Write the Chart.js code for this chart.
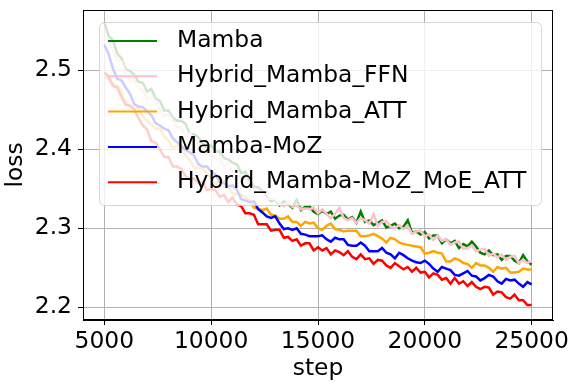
<!DOCTYPE html>
<html>
<head>
<meta charset="utf-8">
<script src="https://cdn.jsdelivr.net/npm/chart.js@4"></script>
<style>body{margin:0;background:#fff}</style>
</head>
<body>
<canvas id="lossChart" width="571" height="383"></canvas>
<script>
// loss logged every 200 steps, 5000 .. 25000
const steps = Array.from({length: 101}, (_, i) => 5000 + i * 200);
const xTicks = [5000, 10000, 15000, 20000, 25000];
const yTicks = [2.2, 2.3, 2.4, 2.5];
const seriesNames = ['Mamba', 'Hybrid_Mamba_FFN', 'Hybrid_Mamba_ATT', 'Mamba-MoZ', 'Hybrid_Mamba-MoZ_MoE_ATT'];

const mamba = [
  2.560, 2.543, 2.538, 2.521, 2.515, 2.501, 2.499, 2.494, 2.485, 2.484,
  2.473, 2.476, 2.464, 2.461, 2.449, 2.449, 2.440, 2.436, 2.436, 2.432,
  2.419, 2.419, 2.415, 2.407, 2.401, 2.405, 2.397, 2.397, 2.389, 2.387,
  2.383, 2.381, 2.370, 2.371, 2.360, 2.352, 2.352, 2.347, 2.339, 2.334,
  2.336, 2.329, 2.334, 2.331, 2.326, 2.336, 2.323, 2.327, 2.328, 2.321,
  2.318, 2.322, 2.318, 2.321, 2.312, 2.316, 2.317, 2.311, 2.314, 2.307,
  2.321, 2.308, 2.310, 2.304, 2.307, 2.310, 2.301, 2.303, 2.306, 2.300,
  2.302, 2.310, 2.294, 2.296, 2.292, 2.295, 2.287, 2.291, 2.291, 2.281,
  2.286, 2.281, 2.284, 2.275, 2.280, 2.277, 2.283, 2.277, 2.269, 2.267,
  2.272, 2.266, 2.267, 2.260, 2.265, 2.265, 2.259, 2.256, 2.266, 2.258,
  2.254
];
const hybridFFN = [
  2.541, 2.537, 2.526, 2.513, 2.511, 2.496, 2.487, 2.488, 2.478, 2.475,
  2.464, 2.465, 2.461, 2.450, 2.442, 2.444, 2.436, 2.428, 2.427, 2.417,
  2.420, 2.410, 2.408, 2.398, 2.400, 2.395, 2.388, 2.387, 2.378, 2.382,
  2.372, 2.371, 2.362, 2.364, 2.354, 2.349, 2.348, 2.346, 2.336, 2.338,
  2.337, 2.331, 2.328, 2.334, 2.327, 2.329, 2.324, 2.325, 2.324, 2.326,
  2.319, 2.324, 2.318, 2.313, 2.318, 2.326, 2.313, 2.310, 2.313, 2.307,
  2.313, 2.310, 2.306, 2.318, 2.303, 2.308, 2.309, 2.302, 2.300, 2.304,
  2.299, 2.303, 2.293, 2.296, 2.297, 2.290, 2.292, 2.285, 2.291, 2.284,
  2.286, 2.279, 2.282, 2.283, 2.274, 2.275, 2.278, 2.271, 2.273, 2.274,
  2.265, 2.268, 2.263, 2.267, 2.260, 2.264, 2.265, 2.256, 2.260, 2.256,
  2.259
];
const hybridATT = [
  2.492, 2.488, 2.482, 2.480, 2.473, 2.459, 2.455, 2.452, 2.452, 2.441,
  2.436, 2.431, 2.426, 2.426, 2.416, 2.411, 2.401, 2.404, 2.401, 2.392,
  2.386, 2.377, 2.376, 2.377, 2.368, 2.364, 2.356, 2.360, 2.360, 2.351,
  2.344, 2.343, 2.343, 2.339, 2.335, 2.326, 2.325, 2.323, 2.325, 2.317,
  2.316, 2.312, 2.312, 2.315, 2.308, 2.308, 2.303, 2.308, 2.306, 2.307,
  2.300, 2.298, 2.303, 2.306, 2.299, 2.298, 2.296, 2.297, 2.297, 2.297,
  2.290, 2.290, 2.291, 2.293, 2.290, 2.287, 2.282, 2.288, 2.286, 2.282,
  2.280, 2.279, 2.278, 2.277, 2.276, 2.268, 2.269, 2.271, 2.269, 2.268,
  2.258, 2.258, 2.262, 2.260, 2.256, 2.255, 2.250, 2.256, 2.253, 2.253,
  2.250, 2.245, 2.251, 2.249, 2.250, 2.244, 2.244, 2.245, 2.249, 2.248,
  2.248
];
const mambaMoZ = [
  2.532, 2.520, 2.502, 2.489, 2.487, 2.478, 2.470, 2.457, 2.454, 2.453,
  2.448, 2.443, 2.433, 2.430, 2.426, 2.424, 2.414, 2.409, 2.404, 2.399,
  2.396, 2.392, 2.381, 2.378, 2.378, 2.372, 2.368, 2.359, 2.357, 2.353,
  2.354, 2.349, 2.337, 2.335, 2.333, 2.334, 2.324, 2.320, 2.315, 2.313,
  2.315, 2.306, 2.299, 2.300, 2.298, 2.300, 2.293, 2.292, 2.290, 2.290,
  2.290, 2.291, 2.286, 2.283, 2.288, 2.286, 2.286, 2.279, 2.278, 2.278,
  2.282, 2.278, 2.271, 2.271, 2.271, 2.275, 2.269, 2.267, 2.262, 2.269,
  2.266, 2.262, 2.259, 2.257, 2.256, 2.259, 2.255, 2.249, 2.245, 2.251,
  2.249, 2.247, 2.241, 2.240, 2.243, 2.246, 2.240, 2.239, 2.234, 2.237,
  2.241, 2.239, 2.233, 2.230, 2.236, 2.234, 2.235, 2.230, 2.226, 2.232,
  2.229
];
const hybridMoZMoEATT = [
  2.497, 2.492, 2.480, 2.478, 2.466, 2.456, 2.455, 2.450, 2.439, 2.430,
  2.425, 2.410, 2.408, 2.400, 2.390, 2.390, 2.378, 2.378, 2.375, 2.366,
  2.361, 2.363, 2.357, 2.359, 2.348, 2.350, 2.348, 2.340, 2.342, 2.333,
  2.339, 2.330, 2.328, 2.319, 2.319, 2.317, 2.305, 2.305, 2.305, 2.297,
  2.298, 2.298, 2.288, 2.289, 2.284, 2.286, 2.278, 2.281, 2.281, 2.272,
  2.276, 2.272, 2.275, 2.267, 2.272, 2.270, 2.266, 2.271, 2.264, 2.261,
  2.267, 2.261, 2.262, 2.255, 2.260, 2.259, 2.253, 2.250, 2.256, 2.252,
  2.248, 2.251, 2.245, 2.250, 2.244, 2.245, 2.238, 2.243, 2.241, 2.235,
  2.237, 2.230, 2.237, 2.230, 2.233, 2.227, 2.232, 2.226, 2.223, 2.226,
  2.225, 2.216, 2.220, 2.219, 2.213, 2.211, 2.216, 2.209, 2.209, 2.203,
  2.203
];

function pairs(values) {
  return values.map((v, i) => ({x: steps[i], y: v}));
}

function line(label, values, color, order) {
  return {
    label: label,
    data: pairs(values),
    borderColor: color,
    borderWidth: 2.5,
    pointRadius: 0,
    tension: 0,
    fill: false,
    order: order,
  };
}

// matplotlib style frame + legend box drawn on top of the lines
const frameAndLegend = {
  id: 'frameAndLegend',
  afterDraw(chart) {
    const ctx = chart.ctx;
    const a = chart.chartArea;
    ctx.save();
    ctx.strokeStyle = '#000';
    ctx.lineWidth = 1;
    ctx.strokeRect(a.left + 0.5, a.top + 0.5, a.right - a.left - 1, a.bottom - a.top - 1);

    const bx = a.left + 16, by = a.top + 12, bw = 442, bh = 183;
    ctx.beginPath();
    ctx.roundRect(bx + 0.5, by + 0.5, bw, bh, 5);
    ctx.fillStyle = 'rgba(255,255,255,0.8)';
    ctx.fill();
    ctx.strokeStyle = 'rgba(204,204,204,0.8)';
    ctx.stroke();

    ctx.font = '23.4px "DejaVu Sans"';
    ctx.textBaseline = 'middle';
    ctx.textAlign = 'left';
    chart.data.datasets.forEach((ds, i) => {
      const y = by + 19 + i * 35.3;
      ctx.beginPath();
      ctx.moveTo(bx + 9, y);
      ctx.lineTo(bx + 58, y);
      ctx.strokeStyle = ds.borderColor;
      ctx.lineWidth = 2;
      ctx.stroke();
      ctx.fillStyle = '#000';
      ctx.fillText(ds.label, bx + 78, y);
    });
    ctx.restore();
  }
};

// keep the plot box where matplotlib put it
function noLabelPadding(scale) {
  scale.paddingTop = 0;
  scale.paddingBottom = 0;
  scale.paddingLeft = 0;
  scale.paddingRight = 0;
}

Chart.defaults.font.family = '"DejaVu Sans"';
Chart.defaults.font.size = 23.4;
Chart.defaults.color = '#000';

new Chart(document.getElementById('lossChart'), {
  type: 'line',
  data: {
    datasets: [
      line(seriesNames[0], mamba, '#008000', 4),
      line(seriesNames[1], hybridFFN, '#ffc0cb', 3),
      line(seriesNames[2], hybridATT, '#ffa500', 2),
      line(seriesNames[3], mambaMoZ, '#0000ff', 1),
      line(seriesNames[4], hybridMoZMoEATT, '#ff0000', 0),
    ]
  },
  options: {
    responsive: false,
    animation: false,
    layout: {padding: {left: 0, top: 10, right: 18, bottom: 0}},
    plugins: {
      legend: {display: false},
      tooltip: {enabled: false},
    },
    scales: {
      x: {
        type: 'linear',
        min: 4000,
        max: 26000,
        afterBuildTicks: (scale) => { scale.ticks = xTicks.map(v => ({value: v})); },
        afterFit: (scale) => { scale.height = 63; noLabelPadding(scale); },
        ticks: {padding: 3, maxRotation: 0, callback: (v) => String(v)},
        grid: {color: '#b0b0b0', lineWidth: 1, tickLength: 5, tickColor: '#000'},
        border: {color: '#000', width: 1},
        title: {display: true, text: 'step', padding: {top: 0, bottom: 0}},
      },
      y: {
        min: 2.184,
        max: 2.576,
        afterBuildTicks: (scale) => { scale.ticks = yTicks.map(v => ({value: v})); },
        afterFit: (scale) => { scale.width = 83; noLabelPadding(scale); },
        ticks: {padding: 6, callback: (v) => v.toFixed(1)},
        grid: {color: '#b0b0b0', lineWidth: 1, tickLength: 5, tickColor: '#000'},
        border: {color: '#000', width: 1},
        title: {display: true, text: 'loss', padding: {top: 2, bottom: 0}},
      }
    }
  },
  plugins: [frameAndLegend]
});
</script>
</body>
</html>
